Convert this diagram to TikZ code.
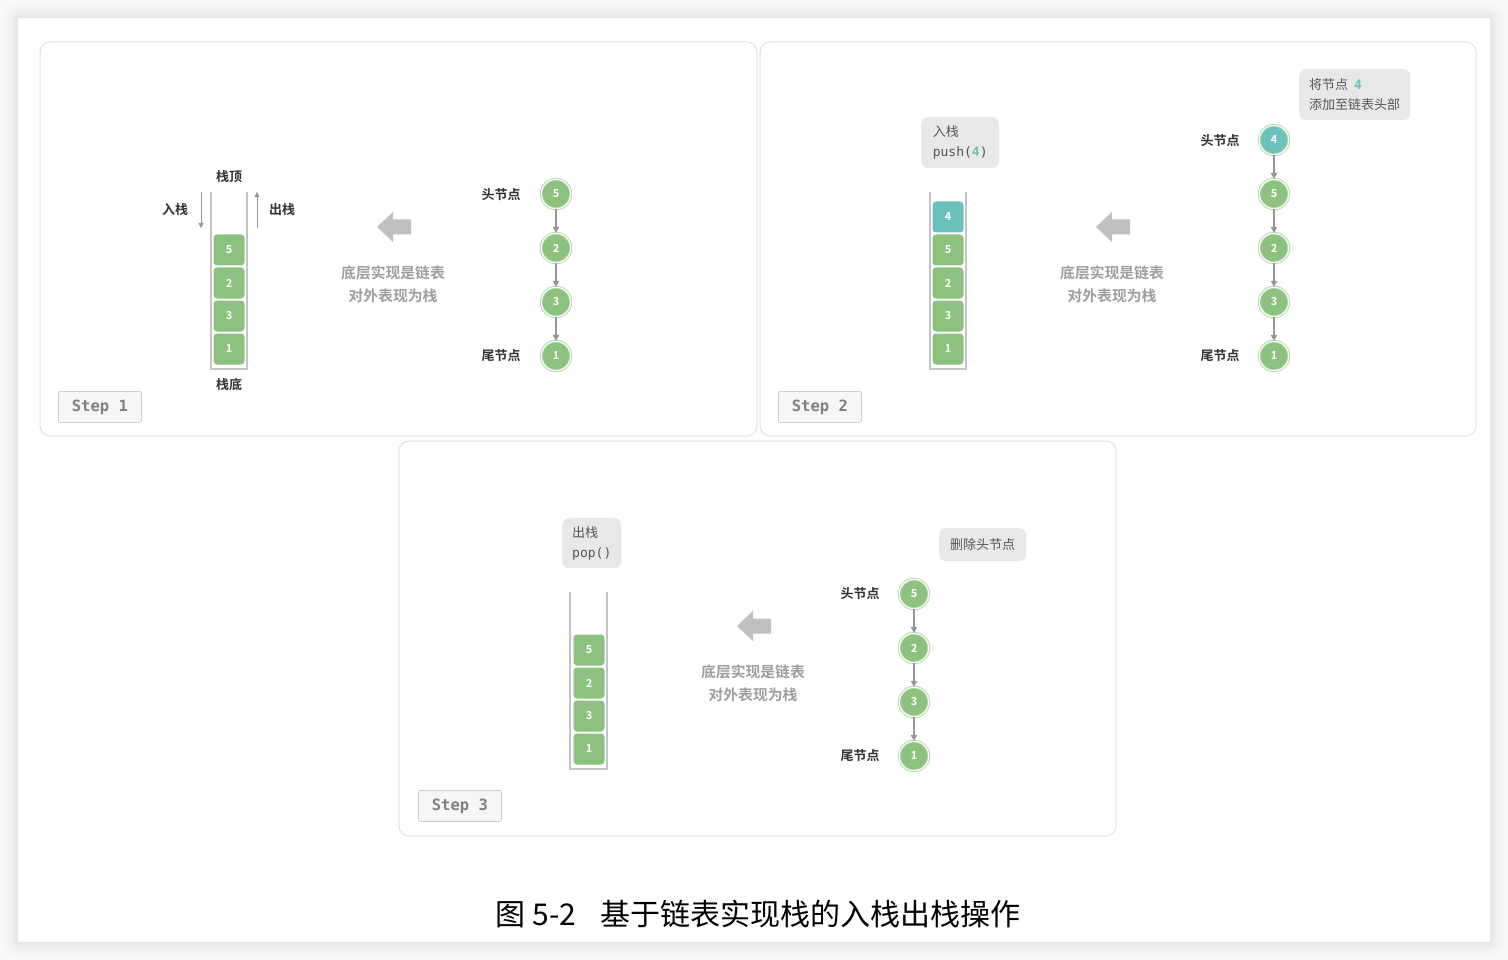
\documentclass[tikz,border=0pt]{standalone}
\usepackage{fontspec}
\setmainfont{Noto Sans CJK SC}[BoldFont={Noto Sans CJK SC Bold}]
\setmonofont{DejaVu Sans Mono}
\usetikzlibrary{arrows.meta}
\definecolor{boxgreen}{RGB}{141,193,127}
\definecolor{tealc}{RGB}{107,194,188}
\definecolor{ringgreen}{RGB}{178,216,168}
\definecolor{arrowgray}{RGB}{150,150,150}
\definecolor{bigarrowgray}{RGB}{192,192,192}
\definecolor{midtext}{RGB}{158,158,158}
\definecolor{darktext}{RGB}{50,50,50}
\definecolor{bubblefill}{RGB}{232,232,232}
\definecolor{bubbletext}{RGB}{85,85,85}
\definecolor{stepfill}{RGB}{246,246,246}
\definecolor{stepdraw}{RGB}{205,205,205}
\definecolor{steptext}{RGB}{128,128,128}
\definecolor{contline}{RGB}{196,196,196}
\definecolor{panelline}{RGB}{226,226,226}
\begin{document}
\begin{tikzpicture}[x=1pt,y=-1pt,
  panel/.style={draw=panelline,line width=1pt,rounded corners=10pt,fill=white},
  sbox/.style={fill=boxgreen,rounded corners=3.5pt,minimum width=31pt,minimum height=31pt,inner sep=0pt,text=white,font=\fontsize{11}{12}\selectfont\bfseries},
  tbox/.style={sbox,fill=tealc},
  lnode/.style={circle,fill=boxgreen,draw=ringgreen,double=white,double distance=1.1pt,line width=0.9pt,minimum size=29.5pt,inner sep=0pt,text=white,font=\fontsize{11}{12}\selectfont\bfseries},
  tnode/.style={lnode,fill=tealc},
  conn/.style={draw=arrowgray,line width=1.1pt,-{Triangle[length=6pt,width=6.5pt]}},
  vconn/.style={draw=arrowgray,line width=1pt,-{Triangle[length=5pt,width=5pt]}},
  lbl/.style={text=darktext,font=\fontsize{13}{16}\selectfont\bfseries,inner sep=0pt},
  midlbl/.style={text=midtext,font=\fontsize{14.8}{23}\selectfont\bfseries,align=center,inner sep=0pt},
  container/.style={draw=contline,line width=1.6pt},
  bubble/.style={fill=bubblefill,rounded corners=7pt,text=bubbletext,align=left,font=\fontsize{13}{20}\selectfont,inner xsep=10pt,inner ysep=6pt,anchor=north west},
  stepbox/.style={fill=stepfill,draw=stepdraw,line width=0.8pt,rounded corners=2pt,minimum width=83pt,minimum height=31pt,inner sep=0pt,text=steptext,font=\fontsize{15.5}{18}\selectfont\ttfamily\bfseries,anchor=north west},
  bigarrow/.pic={\fill[bigarrowgray] (-17,0) -- (-1,-15) -- (-1,-7.5) -- (17,-7.5) -- (17,7.5) -- (-1,7.5) -- (-1,15) -- cycle;}
]
\useasboundingbox (0,0) rectangle (1508,960);
% page background and shadow
\fill[gray!4] (0,0) rectangle (1508,960);
\fill[gray!7,rounded corners=14pt] (4,4) rectangle (1504,956);
\fill[gray!10,rounded corners=10pt] (8,8) rectangle (1500,952);
\fill[gray!14,rounded corners=6pt] (12,12) rectangle (1496,948);
\fill[gray!19,rounded corners=3pt] (15,15) rectangle (1493,945);
\fill[white] (18,18) rectangle (1490,942);

% ================= Panel 1 =================
\draw[panel] (40,42) rectangle (757,436);
\draw[container] (211,192) -- (211,369) -- (247,369) -- (247,192);
\node[sbox] (p1s5) at (229,250) {5};
\node[sbox] (p1s2) at (229,283) {2};
\node[sbox] (p1s3) at (229,316) {3};
\node[sbox] (p1s1) at (229,349) {1};
\node[lbl] (p1top) at (229,177) {栈顶};
\node[lbl] (p1bot) at (229,385) {栈底};
\node[lbl] (p1in) at (175,210) {入栈};
\node[lbl] (p1out) at (282,210) {出栈};
\coordinate (p1ina) at (201,192);
\coordinate (p1inb) at (201,228);
\coordinate (p1outa) at (257,228);
\coordinate (p1outb) at (257,192);
\draw[vconn] (p1ina) -- (p1inb);
\draw[vconn] (p1outa) -- (p1outb);
\pic at (394,227) {bigarrow};
\node[midlbl] (p1txt) at (393,284) {底层实现是链表\\对外表现为栈};
\node[lnode] (p1c5) at (556,194) {5};
\node[lnode] (p1c2) at (556,248) {2};
\node[lnode] (p1c3) at (556,302) {3};
\node[lnode] (p1c1) at (556,356) {1};
\draw[conn] (p1c5) -- (p1c2);
\draw[conn] (p1c2) -- (p1c3);
\draw[conn] (p1c3) -- (p1c1);
\node[lbl] (p1head) at (501,195) {头节点};
\node[lbl] (p1tail) at (501,356) {尾节点};
\node[stepbox] (p1step) at (58,391) {Step 1};

% ================= Panel 2 =================
\draw[panel] (760,42) rectangle (1476,436);
\draw[container] (930,192) -- (930,369) -- (966,369) -- (966,192);
\node[tbox] (p2s4) at (948,217) {4};
\node[sbox] (p2s5) at (948,250) {5};
\node[sbox] (p2s2) at (948,283) {2};
\node[sbox] (p2s3) at (948,316) {3};
\node[sbox] (p2s1) at (948,349) {1};
\node[bubble,minimum width=78pt,minimum height=51pt] (p2bub) at (921,117) {入栈\\{\ttfamily push(\textcolor{tealc}{\bfseries 4})}};
\pic at (1113,227) {bigarrow};
\node[midlbl] (p2txt) at (1112,284) {底层实现是链表\\对外表现为栈};
\node[tnode] (p2c4) at (1274,140) {4};
\node[lnode] (p2c5) at (1274,194) {5};
\node[lnode] (p2c2) at (1274,248) {2};
\node[lnode] (p2c3) at (1274,302) {3};
\node[lnode] (p2c1) at (1274,356) {1};
\draw[conn] (p2c4) -- (p2c5);
\draw[conn] (p2c5) -- (p2c2);
\draw[conn] (p2c2) -- (p2c3);
\draw[conn] (p2c3) -- (p2c1);
\node[lbl] (p2head) at (1220,141) {头节点};
\node[lbl] (p2tail) at (1220,356) {尾节点};
\node[bubble,minimum width=111pt,minimum height=51pt] (p2bub2) at (1299,69) {将节点\ \ {\ttfamily\bfseries\textcolor{tealc}{4}}\\添加至链表头部};
\node[stepbox] (p2step) at (778,391) {Step 2};

% ================= Panel 3 =================
\draw[panel] (399,441) rectangle (1116,836);
\draw[container] (570,592) -- (570,769) -- (607,769) -- (607,592);
\node[sbox] (p3s5) at (589,650) {5};
\node[sbox] (p3s2) at (589,683) {2};
\node[sbox] (p3s3) at (589,716) {3};
\node[sbox] (p3s1) at (589,749) {1};
\node[bubble,minimum width=59pt,minimum height=50pt] (p3bub) at (562,518) {出栈\\{\ttfamily pop()}};
\pic at (754,626) {bigarrow};
\node[midlbl] (p3txt) at (753,683) {底层实现是链表\\对外表现为栈};
\node[lnode] (p3c5) at (914,594) {5};
\node[lnode] (p3c2) at (914,648) {2};
\node[lnode] (p3c3) at (914,702) {3};
\node[lnode] (p3c1) at (914,756) {1};
\draw[conn] (p3c5) -- (p3c2);
\draw[conn] (p3c2) -- (p3c3);
\draw[conn] (p3c3) -- (p3c1);
\node[lbl] (p3head) at (860,594) {头节点};
\node[lbl] (p3tail) at (860,756) {尾节点};
\node[bubble,minimum width=87pt,minimum height=33pt,align=center,inner ysep=0pt] (p3bub2) at (939,528) {删除头节点};
\node[stepbox] (p3step) at (418,790) {Step 3};

% caption
\node[text=black,font=\fontsize{30}{32}\selectfont,inner sep=0pt] (cap) at (758,914) {图 5-2\hspace{24pt}基于链表实现栈的入栈出栈操作};
\end{tikzpicture}
\end{document}
